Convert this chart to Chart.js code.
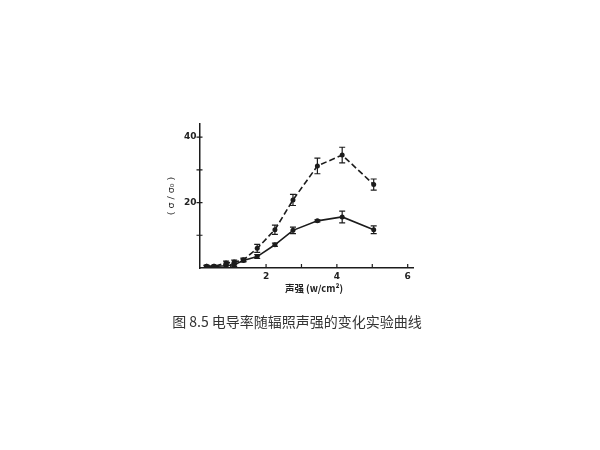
<!DOCTYPE html>
<html>
<head>
<meta charset="utf-8">
<script src="https://cdn.jsdelivr.net/npm/chart.js@4/dist/chart.umd.min.js"></script>
<style>
  body { margin: 0; background: #fff; }
  #wrap { position: relative; width: 600px; height: 450px; }
  #caption {
    position: absolute; left: 0; width: 594px; top: 311px;
    text-align: center; font: 14px "Noto Sans CJK SC", sans-serif; color: #333;
  }
  #xtitle {
    position: absolute; left: 264px; width: 100px; top: 281px;
    text-align: center; font: 600 9.5px "Noto Sans CJK SC", sans-serif; color: #222;
  }
</style>
</head>
<body>
<div id="wrap">
  <canvas id="chart" width="600" height="450"></canvas>
  <div id="xtitle">声强 (w/cm²)</div>
  <div id="caption">图 8.5 电导率随辐照声强的变化实验曲线</div>
</div>
<script>
// sound intensity (w/cm2)
const intensity = [0.32, 0.53, 0.87, 1.1, 1.36, 1.75, 2.25, 2.76, 3.45, 4.15, 5.04];
// upper, dashed curve
const upperValues = [0.5, 0.5, 1.5, 1.8, 2.5, 6.0, 11.7, 20.8, 31.2, 34.5, 25.5];
const upperErrors = [0.3, 0.3, 0.6, 0.6, 0.5, 1.2, 1.4, 1.7, 2.4, 2.4, 1.7];
// lower, solid curve
const lowerValues = [0.5, 0.5, 0.7, 1.0, 2.3, 3.5, 7.1, 11.5, 14.4, 15.6, 11.7];
const lowerErrors = [0.3, 0.3, 0.5, 0.5, 0.4, 0.6, 0.5, 1.0, 0.3, 1.8, 1.2];

const xTicks = [1, 2, 3, 4, 5, 6];
const xLabels = ['', '2', '', '4', '', '6'];
const yTicks = [10, 20, 30, 40];
const yLabels = ['', '20', '', '40'];

const ink = '#1c1c1c';

function toPoints(xs, ys) {
  return xs.map((x, i) => ({ x: x, y: ys[i] }));
}

// error bars with caps
const errorBars = {
  id: 'errorBars',
  afterDatasetsDraw(chart) {
    const ctx = chart.ctx;
    const xs = chart.scales.x, ys = chart.scales.y;
    ctx.save();
    ctx.strokeStyle = ink;
    ctx.lineWidth = 1.2;
    chart.data.datasets.forEach(ds => {
      ds.data.forEach((p, i) => {
        const e = ds.errors[i];
        const px = xs.getPixelForValue(p.x);
        const top = ys.getPixelForValue(p.y + e);
        const bot = ys.getPixelForValue(Math.max(0, p.y - e));
        ctx.beginPath();
        ctx.moveTo(px, top); ctx.lineTo(px, bot);
        ctx.moveTo(px - 3, top); ctx.lineTo(px + 3, top);
        ctx.moveTo(px - 3, bot); ctx.lineTo(px + 3, bot);
        ctx.stroke();
      });
    });
    ctx.restore();
  }
};

// short tick marks pointing into the plot
const innerTicks = {
  id: 'innerTicks',
  afterDraw(chart) {
    const ctx = chart.ctx;
    const xs = chart.scales.x, ys = chart.scales.y;
    const area = chart.chartArea;
    ctx.save();
    ctx.strokeStyle = ink;
    ctx.lineWidth = 1.2;
    ctx.beginPath();
    xTicks.forEach(v => {
      const px = xs.getPixelForValue(v);
      ctx.moveTo(px, area.bottom); ctx.lineTo(px, area.bottom - 4);
    });
    yTicks.forEach(v => {
      const py = ys.getPixelForValue(v);
      ctx.moveTo(area.left - 3, py); ctx.lineTo(area.left + 3, py);
    });
    ctx.stroke();
    ctx.restore();
  }
};

new Chart(document.getElementById('chart'), {
  type: 'line',
  data: {
    datasets: [
      {
        data: toPoints(intensity, upperValues),
        errors: upperErrors,
        borderColor: ink,
        backgroundColor: ink,
        borderWidth: 1.6,
        borderDash: [6, 3],
        pointRadius: 2.5,
        pointBorderWidth: 0,
        tension: 0
      },
      {
        data: toPoints(intensity, lowerValues),
        errors: lowerErrors,
        borderColor: ink,
        backgroundColor: ink,
        borderWidth: 1.6,
        pointRadius: 2.5,
        pointBorderWidth: 0,
        tension: 0
      }
    ]
  },
  options: {
    responsive: false,
    animation: false,
    layout: { padding: { left: 160, top: 124, right: 187, bottom: 157 } },
    plugins: {
      legend: { display: false },
      tooltip: { enabled: false }
    },
    scales: {
      x: {
        type: 'linear',
        min: 0.12,
        max: 6.15,
        afterFit(scale) { scale.height = 25; },
        afterBuildTicks(scale) { scale.ticks = xTicks.map(v => ({ value: v })); },
        grid: { display: false, drawTicks: false },
        border: { display: true, color: ink, width: 1.5 },
        ticks: {
          padding: 3,
          color: '#222',
          font: { family: 'DejaVu Sans', size: 9, weight: 'bold' },
          callback: (v, i) => xLabels[i]
        }
      },
      y: {
        min: 0,
        max: 44,
        afterFit(scale) { scale.width = 39.5; },
        afterBuildTicks(scale) { scale.ticks = yTicks.map(v => ({ value: v })); },
        grid: { display: false, drawTicks: false },
        border: { display: true, color: ink, width: 1.5 },
        ticks: {
          padding: 3,
          color: '#222',
          font: { family: 'DejaVu Sans', size: 9, weight: 'bold' },
          callback: (v, i) => yLabels[i]
        },
        title: {
          display: true,
          text: '( σ / σ₀ )',
          color: '#222',
          padding: { top: 6, bottom: 0 },
          font: { family: 'DejaVu Sans', size: 9.5 }
        }
      }
    }
  },
  plugins: [errorBars, innerTicks]
});
</script>
</body>
</html>
